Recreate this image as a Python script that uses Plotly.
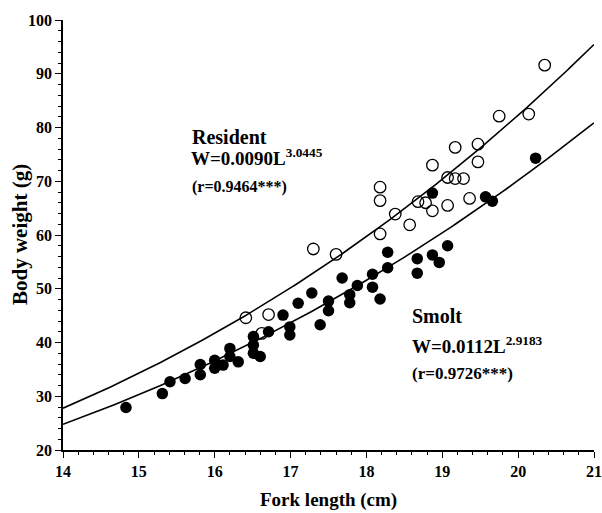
import numpy as np
import plotly.graph_objects as go

# Smolt (filled circles)
smolt_len = [14.83, 15.31, 15.41, 15.61, 15.81, 15.81, 16.00, 16.00, 16.11, 16.20, 16.20, 16.31,
             16.51, 16.51, 16.51, 16.60, 16.71, 16.90, 16.99, 16.99, 17.10, 17.28, 17.39, 17.50,
             17.50, 17.68, 17.78, 17.78, 17.88, 18.08, 18.08, 18.18, 18.28, 18.28, 18.67, 18.67,
             18.87, 18.96, 19.07, 18.87, 19.57, 19.66, 20.23]
smolt_wt = [27.9, 30.5, 32.7, 33.3, 35.9, 34.0, 36.7, 35.2, 35.8, 38.9, 37.4, 36.4,
            41.1, 39.5, 38.0, 37.4, 42.0, 45.1, 42.9, 41.4, 47.3, 49.2, 43.3, 47.7,
            45.9, 52.0, 48.9, 47.4, 50.6, 52.7, 50.3, 48.1, 56.8, 53.9, 55.6, 52.9,
            56.3, 54.9, 58.0, 67.8, 67.1, 66.3, 74.3]

# Resident (open circles)
res_len = [16.41, 16.62, 16.71, 17.30, 17.60, 18.18, 18.18, 18.18, 18.38, 18.57, 18.68, 18.78,
           18.87, 18.87, 19.07, 19.07, 19.17, 19.17, 19.28, 19.36, 19.47, 19.47, 19.75, 20.14, 20.35]
res_wt = [44.6, 41.7, 45.2, 57.4, 56.4, 68.9, 66.4, 60.2, 63.9, 61.9, 66.2, 66.0,
          73.0, 64.5, 70.7, 65.5, 70.5, 76.3, 70.5, 66.8, 76.9, 73.6, 82.1, 82.5, 91.6]

# Fitted power curves W = a * L^b (coefficients as printed on the chart)
res_a, res_b = 0.0090, 3.0445
smolt_a, smolt_b = 0.0112, 2.9183

x_ticks = [14, 15, 16, 17, 18, 19, 20, 21]
y_ticks = [20, 30, 40, 50, 60, 70, 80, 90, 100]

L = np.linspace(14, 21, 200)
font = "Liberation Serif, Times New Roman, serif"

fig = go.Figure()
fig.add_trace(go.Scatter(x=L, y=res_a * L ** res_b, mode="lines",
                         line=dict(color="black", width=1.6), hoverinfo="skip"))
fig.add_trace(go.Scatter(x=L, y=smolt_a * L ** smolt_b, mode="lines",
                         line=dict(color="black", width=1.6), hoverinfo="skip"))
fig.add_trace(go.Scatter(x=res_len, y=res_wt, mode="markers", name="Resident",
                         marker=dict(symbol="circle-open", size=11.5, color="black",
                                     line=dict(width=1.3, color="black"))))
fig.add_trace(go.Scatter(x=smolt_len, y=smolt_wt, mode="markers", name="Smolt",
                         marker=dict(symbol="circle", size=11.5, color="black")))

axis_common = dict(showline=True, linecolor="black", linewidth=1.5, ticks="outside",
                   ticklen=6, tickwidth=1.2, tickcolor="black", showgrid=False, zeroline=False,
                   automargin=False,
                   tickfont=dict(family=font, size=16, color="black", weight="bold"))

fig.update_xaxes(range=[14, 21], tickvals=x_ticks, ticktext=[str(v) for v in x_ticks],
                 minor=dict(dtick=0.2, ticks="outside", ticklen=3, tickcolor="black", tickwidth=1),
                 **axis_common)
fig.update_yaxes(range=[20, 100], tickvals=y_ticks, ticktext=[str(v) for v in y_ticks],
                 minor=dict(dtick=2, ticks="outside", ticklen=3, tickcolor="black", tickwidth=1),
                 **axis_common)

# axis titles
fig.add_annotation(x=0.5, y=0, xref="paper", yref="paper", yshift=-50, text="Fork length (cm)",
                   showarrow=False, xanchor="center", yanchor="middle",
                   font=dict(family=font, size=19, color="black", weight="bold"))
fig.add_annotation(x=0, y=0.5, xref="paper", yref="paper", xshift=-43, text="Body weight (g)",
                   textangle=-90, showarrow=False, xanchor="center", yanchor="middle",
                   font=dict(family=font, size=21, color="black", weight="bold"))

def ann(x, y, text, size):
    fig.add_annotation(x=x, y=y, xref="x", yref="y", text=text, showarrow=False,
                       xanchor="left", yanchor="middle",
                       font=dict(family=font, size=size, color="black", weight="bold"))

ann(15.68, 78.3, "Resident", 20)
ann(15.66, 74.5, "W=0.0090L<sup>3.0445</sup>", 19)
ann(15.68, 68.9, "(r=0.9464***)", 16)
ann(18.57, 45.0, "Smolt", 20)
ann(18.57, 39.6, "W=0.0112L<sup>2.9183</sup>", 19)
ann(18.57, 34.2, "(r=0.9726***)", 17)

fig.update_layout(width=602, height=513, margin=dict(l=63, r=8, t=20, b=63),
                  plot_bgcolor="white", paper_bgcolor="white", showlegend=False)
fig.write_html("out.html", config={"displayModeBar": False},
               post_script="document.body.style.margin='0';document.body.style.overflow='hidden';")
